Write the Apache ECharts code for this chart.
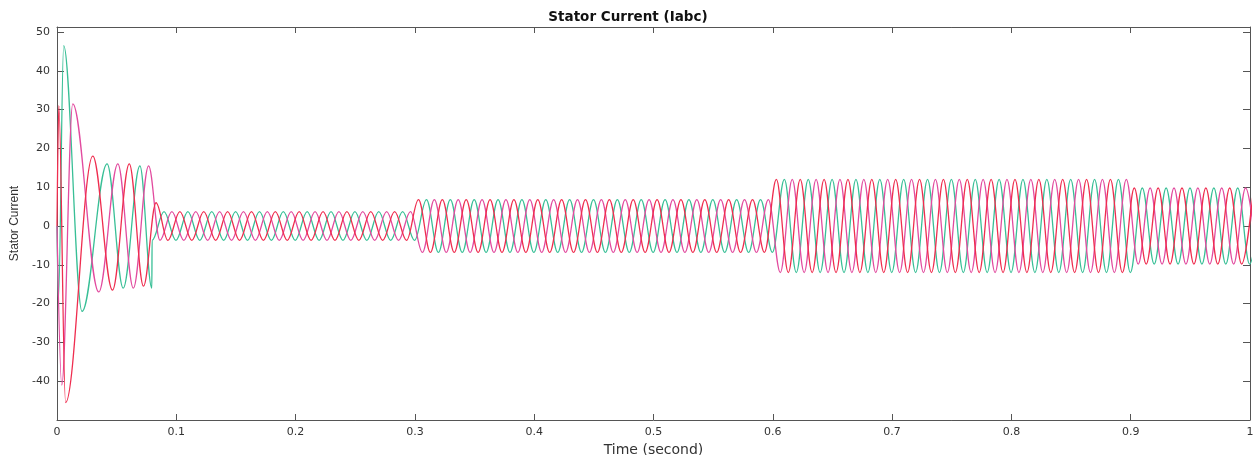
<!DOCTYPE html>
<html>
<head>
<meta charset="utf-8">
<script src="https://cdn.jsdelivr.net/npm/echarts@6/dist/echarts.min.js"></script>
<style>
html,body{margin:0;padding:0;background:#fff;}
#chart{width:1256px;height:455px;}
</style>
</head>
<body>
<div id="chart"></div>
<script>
// ---- Data ----
const chartTitle = 'Stator Current (Iabc)';
const xName = 'Time (second)';
const yName = 'Stator Current';
const xTickValues = [0, 0.1, 0.2, 0.3, 0.4, 0.5, 0.6, 0.7, 0.8, 0.9, 1];
const yTickValues = [-40, -30, -20, -10, 0, 10, 20, 30, 40, 50];

// Start-up transient: extrema [time, current] of each phase
const redStart   = [[0, 0], [0.0015, 31], [0.0072, -45.5], [0.030, 18], [0.0465, -16.5], [0.0606, 16], [0.0725, -15.5], [0.083, 6]];
const greenStart = [[0, 0], [0.0012, -19], [0.0056, 46.5], [0.021, -22], [0.042, 16], [0.0555, -16], [0.0695, 15.5], [0.0795, -16]];
const pinkStart  = [[0, 0], [0.004, -41], [0.0132, 31.5], [0.035, -17], [0.051, 16], [0.064, -16], [0.0768, 15.5]];

// Steady sections: start time and peak amplitude of each section
const sectionStart = [0, 0.3, 0.6, 0.9];
const sectionPeak  = [3.7, 6.8, 12, 9.8];
// time between a crest and the next trough (50 Hz supply)
const halfCycle = 0.01;
// time of one crest of each phase in the steady part
const redCrest = 0.083, greenCrest = 0.0897, pinkCrest = 0.0963;

function peakAt(t) {
  let a = sectionPeak[0];
  for (let i = 0; i < sectionStart.length; i++) if (t >= sectionStart[i]) a = sectionPeak[i];
  return a;
}
function phasePoints(start, crest) {
  const pts = start.slice();
  const lastT = start[start.length - 1][0];
  for (let k = -20; k < 120; k++) {
    const t = +(crest + k * halfCycle).toFixed(5);
    if (t <= lastT + 1e-6 || t > 1.012) continue;
    const sign = (k % 2 === 0) ? 1 : -1;
    pts.push([t, sign * peakAt(t)]);
  }
  return pts;
}
const redData = phasePoints(redStart, redCrest);
const greenData = phasePoints(greenStart, greenCrest);
const pinkData = phasePoints(pinkStart, pinkCrest);

// ---- Chart ----
const chart = echarts.init(document.getElementById('chart'), null, {renderer: 'canvas'});
const axisColor = '#555';
const textColor = '#333';
const tickFont = 'DejaVu Sans';

function xAxisDef(pos, labels) {
  return {
    type: 'value', position: pos, min: 0, max: 1, interval: 0.1,
    name: labels ? xName : '', nameLocation: 'middle', nameGap: 20,
    nameTextStyle: {fontFamily: tickFont, fontSize: 14, color: textColor},
    axisLine: {show: true, onZero: false, lineStyle: {color: axisColor, width: 1}},
    axisTick: {show: true, inside: true, length: 6, lineStyle: {color: axisColor}},
    axisLabel: {show: labels, margin: 7, fontFamily: tickFont, fontSize: 11, color: textColor,
      formatter: v => { const r = Math.round(v * 10) / 10; return xTickValues.indexOf(r) >= 0 ? String(r) : ''; }},
    splitLine: {show: false}
  };
}
function yAxisDef(pos, labels) {
  return {
    type: 'value', position: pos, min: -50, max: 51.3, interval: 10,
    name: labels ? yName : '', nameLocation: 'middle', nameGap: 34,
    nameTextStyle: {fontFamily: 'Liberation Sans', fontSize: 12, color: textColor},
    axisLine: {show: true, onZero: false, lineStyle: {color: axisColor, width: 1}},
    axisTick: {show: true, inside: true, length: 7, lineStyle: {color: axisColor}},
    axisLabel: {show: labels, margin: 7, fontFamily: tickFont, fontSize: 11, color: textColor,
      formatter: v => (yTickValues.indexOf(Math.round(v)) >= 0 && Math.abs(v - Math.round(v)) < 1e-6) ? String(Math.round(v)) : ''},
    splitLine: {show: false}
  };
}
function phaseSeries(name, data, color, z) {
  return {
    name, type: 'line', data, xAxisIndex: 0, yAxisIndex: 0,
    symbol: 'none', showSymbol: false, smooth: 0.36, smoothMonotone: 'x',
    lineStyle: {color, width: 1.3}, clip: true, z, animation: false
  };
}

chart.setOption({
  backgroundColor: '#ffffff',
  animation: false,
  title: {
    text: chartTitle, left: 'center', top: 5,
    textStyle: {fontFamily: 'DejaVu Sans', fontSize: 13.5, fontWeight: 'bold', color: '#111'}
  },
  grid: {left: 57, right: 6, top: 27, bottom: 35, containLabel: false, outerBoundsMode: 'none'},
  xAxis: [xAxisDef('bottom', true), xAxisDef('top', false)],
  yAxis: [yAxisDef('left', true), yAxisDef('right', false)],
  series: [
    phaseSeries('Ib', greenData, '#38bf96', 2),
    phaseSeries('Ic', pinkData, '#e24b9f', 3),
    phaseSeries('Ia', redData, '#ef2d4f', 4)
  ]
});
</script>
</body>
</html>
